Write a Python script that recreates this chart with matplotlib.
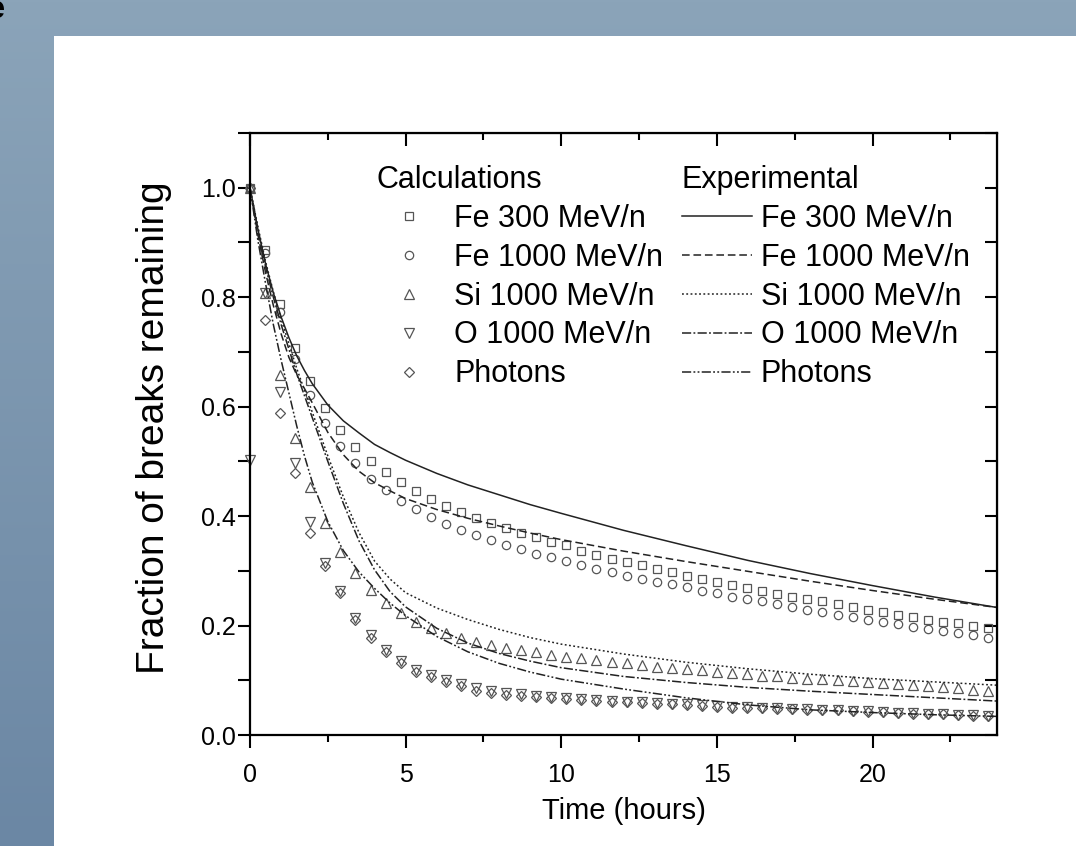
import numpy as np
import matplotlib
matplotlib.use('Agg')
import matplotlib.pyplot as plt
from matplotlib.patches import Rectangle
from matplotlib.colors import LinearSegmentedColormap
from matplotlib.ticker import MultipleLocator, FormatStrFormatter

plt.rcParams['font.family'] = ['Liberation Sans', 'DejaVu Sans']

# calculated points (regular time grid, hours)
calc_time = np.round(np.arange(50) * 0.484, 3)

calc_fe300 = [1.0, 0.887, 0.788, 0.707, 0.647, 0.598, 0.557, 0.527, 0.501, 0.481,
              0.463, 0.446, 0.431, 0.419, 0.407, 0.396, 0.387, 0.378, 0.369, 0.362,
              0.353, 0.347, 0.337, 0.329, 0.322, 0.317, 0.310, 0.304, 0.298, 0.291,
              0.285, 0.280, 0.274, 0.269, 0.264, 0.258, 0.253, 0.249, 0.244, 0.239,
              0.233, 0.228, 0.224, 0.219, 0.215, 0.210, 0.207, 0.204, 0.199, 0.195]
calc_fe1000 = [1.0, 0.880, 0.773, 0.687, 0.622, 0.570, 0.528, 0.497, 0.468, 0.448,
               0.428, 0.413, 0.399, 0.386, 0.375, 0.366, 0.357, 0.347, 0.339, 0.331,
               0.326, 0.318, 0.311, 0.303, 0.298, 0.291, 0.285, 0.280, 0.276, 0.270,
               0.264, 0.260, 0.253, 0.249, 0.244, 0.239, 0.234, 0.228, 0.224, 0.219,
               0.215, 0.210, 0.206, 0.202, 0.198, 0.193, 0.190, 0.186, 0.183, 0.178]
calc_si = [1.0, 0.808, 0.658, 0.543, 0.454, 0.387, 0.335, 0.296, 0.265, 0.241,
           0.223, 0.207, 0.196, 0.186, 0.178, 0.170, 0.165, 0.159, 0.155, 0.151,
           0.146, 0.143, 0.141, 0.137, 0.133, 0.131, 0.128, 0.125, 0.123, 0.120,
           0.118, 0.115, 0.113, 0.111, 0.108, 0.107, 0.105, 0.103, 0.102, 0.100,
           0.098, 0.097, 0.095, 0.093, 0.091, 0.089, 0.087, 0.085, 0.083, 0.081]
calc_o = [0.503, 0.808, 0.627, 0.497, 0.390, 0.315, 0.263, 0.214, 0.182, 0.156,
          0.136, 0.119, 0.109, 0.100, 0.093, 0.085, 0.080, 0.077, 0.075, 0.072,
          0.070, 0.068, 0.066, 0.064, 0.063, 0.061, 0.060, 0.058, 0.057, 0.056,
          0.054, 0.053, 0.052, 0.051, 0.050, 0.049, 0.048, 0.047, 0.046, 0.045,
          0.044, 0.043, 0.042, 0.041, 0.040, 0.039, 0.038, 0.037, 0.036, 0.035]
calc_photons = [1.0, 0.759, 0.588, 0.479, 0.370, 0.308, 0.259, 0.210, 0.178, 0.152,
                0.132, 0.115, 0.106, 0.097, 0.090, 0.081, 0.077, 0.074, 0.072, 0.070,
                0.068, 0.066, 0.064, 0.062, 0.061, 0.060, 0.058, 0.057, 0.056, 0.055,
                0.053, 0.052, 0.050, 0.049, 0.049, 0.048, 0.047, 0.046, 0.045, 0.045,
                0.043, 0.042, 0.042, 0.041, 0.039, 0.039, 0.038, 0.036, 0.035, 0.034]

# experimental curves
exp_time = [0, 0.25, 0.5, 0.75, 1, 1.25, 1.5, 1.75, 2, 2.5, 3, 3.5, 4, 4.5, 5,
            6, 7, 8, 9, 10, 12, 14, 16, 18, 20, 22, 24]
exp_fe300 = [1.0, 0.925, 0.861, 0.808, 0.764, 0.726, 0.693, 0.666, 0.642, 0.603, 0.574,
             0.552, 0.531, 0.516, 0.502, 0.478, 0.457, 0.439, 0.421, 0.405, 0.374,
             0.346, 0.319, 0.295, 0.273, 0.252, 0.233]
exp_fe1000 = [1.0, 0.915, 0.845, 0.785, 0.733, 0.690, 0.658, 0.633, 0.607, 0.553, 0.512,
              0.482, 0.461, 0.446, 0.432, 0.412, 0.396, 0.382, 0.369, 0.357, 0.336,
              0.317, 0.299, 0.281, 0.264, 0.248, 0.233]
exp_si = [1.0, 0.930, 0.865, 0.810, 0.760, 0.715, 0.670, 0.630, 0.590, 0.510, 0.435,
          0.370, 0.318, 0.285, 0.260, 0.232, 0.211, 0.193, 0.178, 0.166, 0.148,
          0.133, 0.121, 0.111, 0.103, 0.097, 0.091]
exp_o = [1.0, 0.925, 0.855, 0.800, 0.750, 0.705, 0.660, 0.620, 0.580, 0.500, 0.423,
         0.355, 0.302, 0.262, 0.234, 0.195, 0.168, 0.149, 0.135, 0.123, 0.107,
         0.096, 0.087, 0.080, 0.074, 0.068, 0.062]
exp_photons = [1.0, 0.905, 0.825, 0.750, 0.685, 0.625, 0.565, 0.510, 0.462, 0.390, 0.337,
               0.298, 0.268, 0.241, 0.218, 0.180, 0.152, 0.131, 0.115, 0.102, 0.084,
               0.068, 0.055, 0.046, 0.041, 0.037, 0.034]

labels = ['Fe 300 MeV/n', 'Fe 1000 MeV/n', 'Si 1000 MeV/n', 'O 1000 MeV/n', 'Photons']

fig = plt.figure(figsize=(10.76, 8.46), dpi=100)

# slide background
bg = fig.add_axes([0, 0, 1, 1], zorder=-10)
cmap = LinearSegmentedColormap.from_list('bg', ['#8ba4b9', '#6b87a4'])
bg.imshow(np.linspace(0, 1, 256).reshape(-1, 1), aspect='auto', cmap=cmap,
          extent=[0, 1, 0, 1], origin='upper')
bg.add_patch(Rectangle((54 / 1076, 0), 1, 1 - 36 / 846, facecolor='white', edgecolor='none'))
bg.set_xlim(0, 1)
bg.set_ylim(0, 1)
bg.axis('off')
fig.text(5 / 1076, 1 - 10 / 846, 'e', ha='right', va='center', fontsize=22, fontweight='bold')

ax = fig.add_axes([250 / 1076, 1 - 735 / 846, 747 / 1076, 602 / 846])

mk = dict(ls='none', mfc='none', mec='#555555', mew=0.9)
calc_series = [calc_fe300, calc_fe1000, calc_si, calc_o, calc_photons]
markers = [('s', 5.5), ('o', 6), ('^', 6.5), ('v', 6.5), ('D', 5.5)]
calc_handles = []
for vals, (m, s), lab in zip(calc_series, markers, labels):
    h, = ax.plot(calc_time, vals, marker=m, ms=s, label=lab, clip_on=False, **mk)
    calc_handles.append(h)

exp_series = [exp_fe300, exp_fe1000, exp_si, exp_o, exp_photons]
styles = ['-', (0, (5, 2.5)), (0, (1.2, 1.6)), (0, (6, 1.5, 1.2, 1.5)),
          (0, (6, 1.5, 1.2, 1.5, 1.2, 1.5))]
exp_handles = []
for vals, st, lab in zip(exp_series, styles, labels):
    h, = ax.plot(exp_time, vals, ls=st, color='#222222', lw=1.1, label=lab)
    exp_handles.append(h)

ax.set_xlim(0, 24)
ax.set_ylim(0, 1.1)
ax.xaxis.set_major_locator(MultipleLocator(5))
ax.xaxis.set_minor_locator(MultipleLocator(2.5))
ax.yaxis.set_major_locator(MultipleLocator(0.2))
ax.yaxis.set_minor_locator(MultipleLocator(0.1))
ax.yaxis.set_major_formatter(FormatStrFormatter('%.1f'))
for sp in ax.spines.values():
    sp.set_linewidth(1.6)

ax.tick_params(axis='x', which='major', direction='out', length=9, width=1.5, labelsize=18, pad=11)
ax.tick_params(axis='x', which='minor', direction='out', length=5, width=1.5)
ax.tick_params(axis='y', which='both', direction='out', length=9, width=1.5, labelsize=18, pad=1)

secx = ax.secondary_xaxis('top')
secx.xaxis.set_major_locator(MultipleLocator(5))
secx.xaxis.set_minor_locator(MultipleLocator(2.5))
secx.tick_params(which='major', direction='in', length=9, width=1.5, labeltop=False)
secx.tick_params(which='minor', direction='in', length=5, width=1.5)
secy = ax.secondary_yaxis('right')
secy.yaxis.set_major_locator(MultipleLocator(0.2))
secy.yaxis.set_minor_locator(MultipleLocator(0.1))
secy.tick_params(which='both', direction='in', length=9, width=1.5, labelright=False)

ax.set_xlabel('Time (hours)', fontsize=21, labelpad=7)
ax.set_ylabel('Fraction of breaks remaining', fontsize=28)
ax.yaxis.set_label_coords(-0.104, 0.51)

leg_kw = dict(loc='upper left', frameon=False, fontsize=22, title_fontsize=22,
              alignment='left', borderpad=0, borderaxespad=0, labelspacing=0.29)
leg1 = ax.legend(handles=calc_handles, title='Calculations',
                 bbox_to_anchor=((377 - 250) / 747, (735 - 165) / 602),
                 handlelength=2.1, handletextpad=0.43, **leg_kw)
ax.add_artist(leg1)
ax.legend(handles=exp_handles, title='Experimental',
          bbox_to_anchor=((682 - 250) / 747, (735 - 165) / 602),
          handlelength=2.29, handletextpad=0.29, **leg_kw)

fig.savefig('out.png', dpi=100)
